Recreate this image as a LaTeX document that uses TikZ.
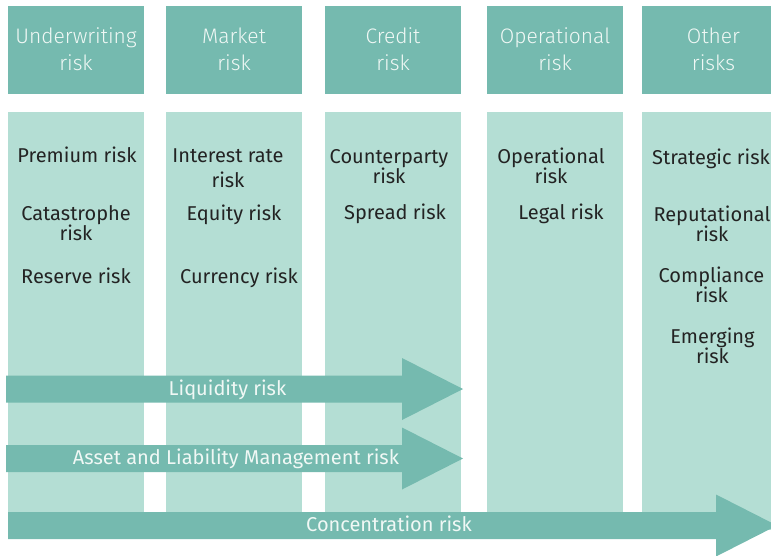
\documentclass[tikz,border=0pt]{standalone}
\usepackage{fontspec}
\setmainfont{Fira Sans}
\newfontfamily\headfont{Fira Sans Light}
\definecolor{headTeal}{RGB}{117,186,175}
\definecolor{colTeal}{RGB}{180,222,212}
\definecolor{paleText}{RGB}{240,248,245}
\definecolor{darkText}{RGB}{35,35,35}

\begin{document}
\begin{tikzpicture}
[x=1pt,y=-1pt,%
  headDecorate/.style={fill=headTeal,text=paleText,minimum height=88pt,inner sep=0pt,%
    align=center,font=\headfont\fontsize{21}{27}\selectfont},%
  colDecorate/.style={fill=colTeal,minimum height=418pt,inner sep=0pt},%
  itemDecorate/.style={text=darkText,align=center,inner sep=0pt,anchor=base,%
    font=\fontsize{20}{20}\selectfont},%
  bandDecorate/.style={fill=headTeal},%
  bandText/.style={text=paleText,inner sep=0pt,anchor=base,font=\fontsize{20}{20}\selectfont}]
\clip (0,0) rectangle (771,555);
%% headers and columns
\foreach \colname/\x/\w/\txt in {under/76/136/Underwriting\\risk, market/234/136/Market\\risk,
  credit/393/136/Credit\\risk, oper/555/136/Operational\\risk, other/713.5/143/Other\\risks}
{
  \node (\colname head) at (\x,49.5) [headDecorate,minimum width=\w pt] {\txt};
  \node (\colname col) at (\x,321) [colDecorate,minimum width=\w pt] {};
}
%% risks inside the columns (y is the last baseline)
\foreach \itemname/\x/\y/\txt in {premium/77/162/Premium risk, cat/76/240/Catastrophe\\risk,
  reserve/76/283/Reserve risk, interest/228/187/Interest rate\\[5pt]risk, equity/234/220/Equity risk,
  currency/239/283/Currency risk, counter/389/183/Counterparty\\risk, spread/395/219/Spread risk,
  operational/551/183/Operational\\risk, legal/561/219/Legal risk,
  reput/712/241/Reputational\\risk, compl/711.5/302/Compliance\\risk, emerg/712.5/363/Emerging\\risk}
{
  \node (\itemname) at (\x,\y) [itemDecorate] {\txt};
}
\node (strategic) at (652,164) [itemDecorate,anchor=base west] {Strategic risk};
%% risks across the columns
\foreach \bandname/\xl/\xh/\yc/\tx/\txt in {liquidity/6/402/389/227.5/Liquidity risk,
  alm/6/402/458.5/236/Asset and Liability Management risk,
  concentration/8/716/525.5/389/Concentration risk}
{
  \fill[bandDecorate] (\xl,\yc-13.5) -- (\xh,\yc-13.5) -- (\xh,\yc-31) -- (\xh+61,\yc)
    -- (\xh,\yc+31) -- (\xh,\yc+13.5) -- (\xl,\yc+13.5) -- cycle;
  \node (\bandname) at (\tx,\yc+6) [bandText] {\txt};
}
\end{tikzpicture}
\end{document}
